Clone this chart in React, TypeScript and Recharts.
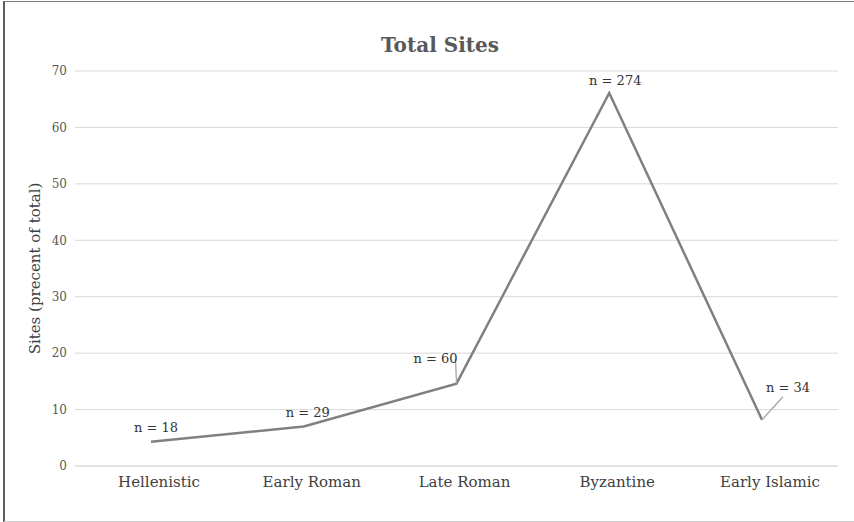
import { LineChart, Line, XAxis, YAxis, CartesianGrid, LabelList } from 'recharts';

// Share of sites per period
const periods = ['Hellenistic', 'Early Roman', 'Late Roman', 'Byzantine', 'Early Islamic'];
const percents = [4.3, 7.0, 14.6, 66.1, 8.2];
const counts = [18, 29, 60, 274, 34];
const yTicks = [0, 10, 20, 30, 40, 50, 60, 70];

const data = periods.map((period, i) => ({ period, pct: percents[i], n: counts[i] }));

// label placement relative to the point; lx/ly = end of leader line (if any)
const labelPlacement = [
  { dx: 5, dy: -10 },
  { dx: 4, dy: -10 },
  { dx: -21, dy: -21, lx: -1, ly: -25 },
  { dx: 6, dy: -8 },
  { dx: 26, dy: -28, lx: 21, ly: -23 },
];

const FONT = '"DejaVu Serif", "Liberation Serif", serif';

function NLabel(props: any) {
  const { x, y, index, value } = props;
  const p: any = labelPlacement[index];
  return (
    <g>
      {p.lx !== undefined && (
        <line x1={x} y1={y} x2={x + p.lx} y2={y + p.ly} stroke="#a6a6a6" strokeWidth={1.3} />
      )}
      <text x={x + p.dx} y={y + p.dy} textAnchor="middle" fontFamily={FONT} fontSize={13} fill="#333">
        {`n = ${value}`}
      </text>
    </g>
  );
}

export default function App() {
  return (
    <div style={{ position: 'absolute', left: 0, top: 0, width: 854, height: 522, background: '#fff' }}>
      <div
        style={{
          position: 'absolute',
          left: 3,
          top: 1,
          width: 849,
          height: 519,
          borderLeft: '2px solid #5f5f5f',
          borderTop: '1px solid #7a7a7a',
          borderBottom: '1px solid #cfcfcf',
        }}
      />
      <div
        style={{
          position: 'absolute',
          left: 0,
          top: 32,
          width: 880,
          textAlign: 'center',
          fontFamily: FONT,
          fontWeight: 'bold',
          fontSize: 20,
          lineHeight: '26px',
          color: '#595959',
        }}
      >
        Total Sites
      </div>
      <LineChart width={854} height={522} data={data} margin={{ top: 71, right: 16, bottom: 26, left: 0 }}>
        <CartesianGrid vertical={false} stroke="#d9d9d9" strokeWidth={1} />
        <XAxis
          dataKey="period"
          padding={{ left: 76, right: 76 }}
          axisLine={{ stroke: '#d9d9d9' }}
          tickLine={false}
          tick={{ fontFamily: FONT, fontSize: 15, fill: '#404040', dx: 8 }}
          tickMargin={4}
        />
        <YAxis
          width={75}
          domain={[0, 70]}
          ticks={yTicks}
          axisLine={false}
          tickLine={false}
          tick={{ fontFamily: FONT, fontSize: 12, fill: '#595959' }}
          tickMargin={2}
          label={{
            value: 'Sites (precent of total)',
            angle: -90,
            position: 'insideLeft',
            offset: 35,
            style: { fontFamily: FONT, fontSize: 15, fill: '#404040', textAnchor: 'middle' },
          }}
        />
        <Line
          type="linear"
          dataKey="pct"
          stroke="#808080"
          strokeWidth={2.5}
          dot={false}
          isAnimationActive={false}
        >
          <LabelList dataKey="n" content={<NLabel />} />
        </Line>
      </LineChart>
    </div>
  );
}
